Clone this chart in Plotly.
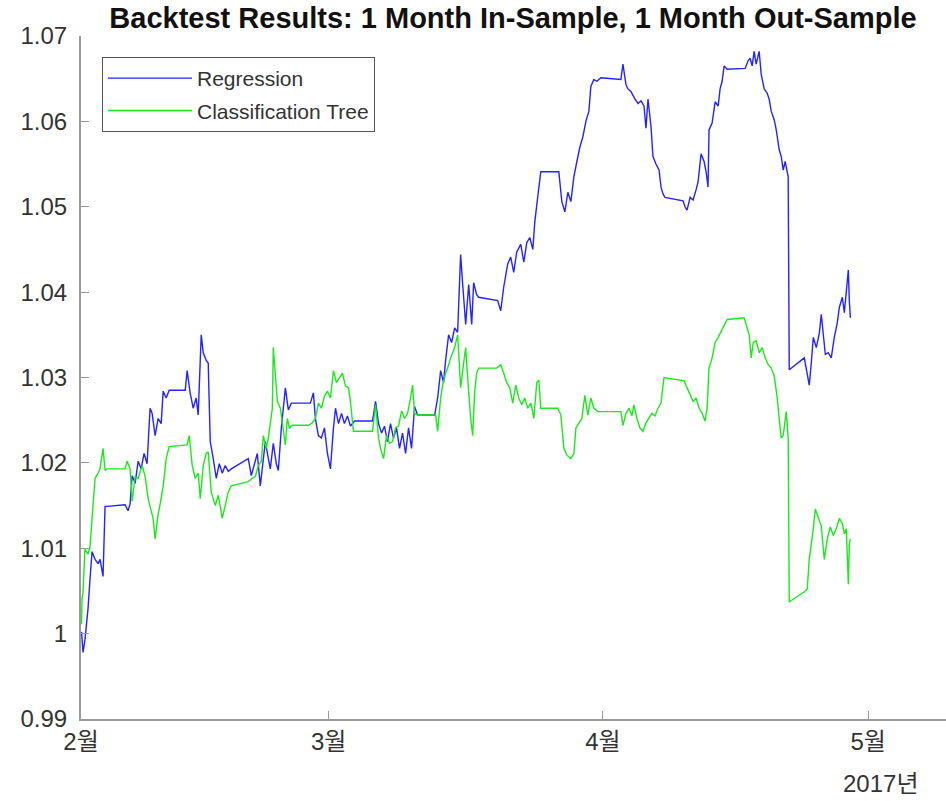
import pandas as pd
import plotly.graph_objects as go

# Days since 2017-02-01 00:00 and equity values
reg_days = [0.06, 0.23, 0.45, 0.79, 1.02, 1.25, 1.59, 1.93, 2.15, 2.49, 2.72, 2.94,
            4.98, 5.32, 5.55, 5.78, 6.12, 6.46, 6.8, 7.13, 7.47, 7.81, 8.04, 8.38, 8.72, 9.06, 9.29, 9.63, 9.97,
            11.78, 12.0, 12.34, 12.68, 13.02, 13.25, 13.59, 13.82, 14.16, 14.38, 14.61, 14.95, 15.29, 15.63, 15.97, 16.31, 16.65, 16.99,
            18.91, 19.25, 19.59, 19.93, 20.27, 20.61, 20.84, 21.18, 21.4, 21.74, 22.08, 22.31, 22.65, 22.99, 23.1, 23.44, 23.78,
            25.93, 26.27, 26.5, 26.84, 27.18, 27.52, 27.86, 28.2, 28.54, 28.77, 29.11, 29.45, 29.78, 30.12, 30.46, 30.92,
            32.96, 33.3, 33.64, 33.98, 34.31, 34.65, 34.99, 35.33, 35.67, 36.01, 36.35, 36.69, 37.03, 37.37, 37.71, 38.05,
            39.98, 40.32, 40.66, 40.99, 41.22, 41.56, 41.9, 42.24, 42.58, 42.92, 43.15, 43.49, 43.83, 44.17, 44.39, 44.73, 44.96,
            47.11, 47.45, 47.79, 48.24, 48.58, 48.92, 49.26, 49.72, 50.06, 50.4, 50.74, 51.08, 51.3, 51.64, 51.98,
            54.02, 54.36, 54.7, 55.04, 55.38, 55.72, 56.06, 56.4, 56.74, 57.08, 57.42, 57.64, 57.98, 58.32, 58.78,
            61.04, 61.27, 61.61, 61.83, 62.17, 62.63, 62.97, 63.31, 63.65, 63.87, 64.1, 64.44, 64.66, 65.0, 65.35, 65.57, 65.8, 66.02,
            68.06, 68.29, 68.52, 68.86, 69.2, 69.54, 69.76, 70.1, 70.44, 70.67, 70.89, 71.0, 71.35, 71.69, 72.03, 72.25, 72.48, 72.71, 73.05,
            75.08, 75.42, 75.65, 75.88, 76.1, 76.33, 76.67, 76.9, 77.24, 77.58, 77.8, 78.03, 78.37, 78.6, 78.93, 79.16, 79.39, 79.61, 79.95,
            80.07, 81.77, 82.1, 82.33, 82.56, 82.79, 83.13, 83.47, 83.69, 83.92, 84.15, 84.48, 84.82, 85.16, 85.5, 85.73, 86.07, 86.3,
            86.52, 86.75, 86.86, 86.98]
reg_vals = [1.0002, 0.9978, 0.9993, 1.0029, 1.0064, 1.0096, 1.0087, 1.0082, 1.0087, 1.0067, 1.0149, 1.0149,
            1.0151, 1.0144, 1.0152, 1.0185, 1.0176, 1.0202, 1.0193, 1.0211, 1.0199, 1.0264, 1.0258, 1.0232, 1.0252, 1.0246, 1.0284, 1.0276, 1.0285,
            1.0285, 1.0308, 1.0282, 1.0264, 1.0276, 1.0256, 1.035, 1.0329, 1.032, 1.0317, 1.0225, 1.0205, 1.0182, 1.0199, 1.0188, 1.0197, 1.019, 1.0193,
            1.0205, 1.0185, 1.0199, 1.0211, 1.0173, 1.0205, 1.0225, 1.0205, 1.0193, 1.0223, 1.0199, 1.0191, 1.0241, 1.0276, 1.0288, 1.0262, 1.027,
            1.027, 1.0282, 1.0252, 1.0232, 1.0229, 1.0241, 1.0211, 1.0193, 1.0241, 1.0264, 1.0246, 1.0258, 1.0246, 1.0255, 1.0243, 1.0249,
            1.0249, 1.0272, 1.0246, 1.0235, 1.0243, 1.0225, 1.0246, 1.0229, 1.0241, 1.0217, 1.0235, 1.0211, 1.0241, 1.0217, 1.0266, 1.0256,
            1.0256, 1.0276, 1.0308, 1.0294, 1.032, 1.035, 1.0341, 1.0358, 1.0353, 1.0444, 1.0409, 1.0362, 1.0409, 1.0362, 1.0411, 1.0397, 1.0394,
            1.039, 1.0378, 1.0406, 1.0433, 1.0441, 1.0423, 1.0447, 1.0456, 1.0435, 1.0458, 1.0464, 1.045, 1.0482, 1.0512, 1.0541,
            1.0541, 1.0506, 1.0494, 1.0517, 1.0506, 1.0535, 1.0553, 1.057, 1.0582, 1.06, 1.0612, 1.0641, 1.0649, 1.0647, 1.0651,
            1.0649, 1.0667, 1.0643, 1.0638, 1.0635, 1.0626, 1.0621, 1.0624, 1.0618, 1.0592, 1.0626, 1.0594, 1.0559, 1.055, 1.0543, 1.0523, 1.0515, 1.0511,
            1.0507, 1.05, 1.0496, 1.0511, 1.0508, 1.052, 1.0529, 1.0562, 1.0553, 1.0541, 1.0523, 1.059, 1.0598, 1.0623, 1.0618, 1.0638, 1.0647, 1.0665, 1.0661,
            1.0662, 1.0671, 1.0674, 1.0665, 1.0682, 1.0667, 1.0682, 1.0655, 1.0638, 1.0633, 1.0626, 1.0612, 1.0602, 1.059, 1.0567, 1.0559, 1.0543, 1.0553, 1.0535,
            1.0309, 1.0323, 1.0305, 1.0291, 1.0317, 1.0347, 1.0335, 1.0352, 1.0374, 1.0347, 1.0327, 1.0329, 1.0323, 1.0347, 1.0364, 1.0382, 1.0394, 1.0376,
            1.0406, 1.0426, 1.039, 1.037]

cls_days = [0.06, 0.11, 0.23, 0.34, 0.45, 0.79, 1.02, 1.25, 1.59, 1.93, 2.15, 2.49, 2.72, 2.94,
            4.98, 5.21, 5.55, 5.78, 6.12, 6.46, 6.91, 7.25, 7.59, 7.93, 8.15, 8.38, 8.72, 8.95, 9.29, 9.63, 9.97,
            12.0, 12.23, 12.57, 12.91, 13.25, 13.48, 13.82, 14.16, 14.38, 14.72, 15.18, 15.52, 15.97, 16.31, 16.65, 16.99,
            18.91, 19.37, 19.71, 20.05, 20.39, 20.61, 20.95, 21.18, 21.4, 21.63, 21.74, 21.97, 22.2, 22.54, 22.76, 23.1, 23.33, 23.56, 23.9,
            25.71, 26.16, 26.5, 26.84, 27.18, 27.52, 27.86, 28.2, 28.54, 28.88, 29.22, 29.56, 29.9, 30.24, 30.46, 30.8, 31.03,
            32.96, 33.3, 33.64, 33.86, 34.2, 34.54, 34.88, 35.22, 35.56, 35.9, 36.24, 36.58, 36.92, 37.26, 37.49, 37.71, 38.05,
            40.09, 40.32, 40.66, 40.88, 41.22, 41.45, 41.79, 42.24, 42.58, 42.92, 43.26, 43.49, 43.71, 44.05, 44.28, 44.5, 44.73, 44.96,
            47.0, 47.45, 47.79, 48.13, 48.47, 48.81, 49.15, 49.49, 49.83, 50.17, 50.51, 50.85, 51.19, 51.53, 51.76, 51.98,
            53.91, 54.25, 54.59, 54.93, 55.38, 55.72, 55.95, 56.29, 56.62, 56.96, 57.3, 57.64, 57.98, 58.44, 59.0,
            61.04, 61.27, 61.61, 61.95, 62.29, 62.51, 62.85, 63.19, 63.53, 63.87, 64.21, 64.55, 64.89, 65.23, 65.57, 65.91,
            68.18, 68.52, 68.86, 69.2, 69.54, 69.88, 70.22, 70.55, 70.78, 71.0, 71.35, 71.69, 72.03, 72.37, 72.71, 73.05,
            74.97, 75.31, 75.54, 75.77, 76.0, 76.33, 76.67, 77.01, 77.35, 77.69, 78.03, 78.37, 78.71, 78.93, 79.16, 79.39, 79.73, 79.95,
            80.07, 81.77, 82.1, 82.33, 82.56, 82.79, 83.01, 83.35, 83.69, 84.03, 84.37, 84.71, 85.05, 85.39, 85.73, 86.07, 86.3,
            86.52, 86.75, 86.86, 86.98]
cls_vals = [1.0011, 1.004, 1.0049, 1.0087, 1.0099, 1.0093, 1.0102, 1.0135, 1.0182, 1.0188, 1.0193, 1.0217, 1.0191, 1.0193,
            1.0193, 1.0202, 1.0193, 1.0155, 1.0184, 1.0182, 1.0197, 1.0184, 1.0158, 1.0144, 1.0135, 1.0111, 1.014, 1.0152, 1.0173, 1.0205, 1.0219,
            1.0221, 1.0232, 1.0197, 1.0182, 1.0188, 1.0158, 1.0197, 1.0211, 1.0213, 1.0166, 1.015, 1.0162, 1.0135, 1.0152, 1.0166, 1.0173,
            1.0178, 1.0182, 1.0184, 1.0197, 1.0202, 1.0232, 1.0217, 1.0229, 1.0244, 1.0264, 1.0335, 1.03, 1.0272, 1.0264, 1.0249, 1.0221, 1.0252, 1.0241, 1.0244,
            1.0244, 1.0247, 1.0252, 1.027, 1.0264, 1.0278, 1.0284, 1.0276, 1.0308, 1.0294, 1.03, 1.0305, 1.029, 1.0288, 1.0272, 1.0237, 1.0237,
            1.0237, 1.0268, 1.0229, 1.0217, 1.0205, 1.0232, 1.0223, 1.0225, 1.0241, 1.0243, 1.0261, 1.0252, 1.0258, 1.0276, 1.0291, 1.0258, 1.0256,
            1.0256, 1.0237, 1.0276, 1.0291, 1.0305, 1.0311, 1.0323, 1.0335, 1.035, 1.0288, 1.0317, 1.0335, 1.03, 1.0252, 1.0232, 1.0282, 1.0305, 1.0311,
            1.0311, 1.0315, 1.0305, 1.0294, 1.0288, 1.027, 1.0291, 1.0276, 1.0268, 1.0276, 1.0264, 1.027, 1.0252, 1.0294, 1.0297, 1.0264,
            1.0264, 1.0256, 1.0217, 1.0209, 1.0205, 1.0211, 1.0241, 1.0247, 1.0252, 1.0279, 1.0256, 1.0276, 1.0264, 1.026, 1.026,
            1.026, 1.0244, 1.0258, 1.0264, 1.0255, 1.0268, 1.0252, 1.0241, 1.0237, 1.0247, 1.0252, 1.0258, 1.0255, 1.0264, 1.027, 1.03,
            1.0296, 1.0288, 1.0282, 1.0272, 1.0276, 1.0264, 1.0258, 1.0249, 1.0264, 1.0311, 1.0323, 1.0341, 1.0347, 1.0355, 1.0361, 1.0368,
            1.037, 1.0358, 1.035, 1.0323, 1.0341, 1.0343, 1.0329, 1.0335, 1.0323, 1.0315, 1.0311, 1.0302, 1.0276, 1.0252, 1.0229, 1.0232, 1.026, 1.0229,
            1.0037, 1.0049, 1.0052, 1.0087, 1.0103, 1.0123, 1.0146, 1.0135, 1.0126, 1.0087, 1.0111, 1.0125, 1.0115, 1.0123, 1.0135, 1.0129, 1.0117,
            1.0123, 1.0058, 1.0105, 1.0111]

series_names = ["Regression", "Classification Tree"]
month_ticks = ["2017-02-01", "2017-03-01", "2017-04-01", "2017-05-01"]
month_labels = ["2월", "3월", "4월", "5월"]
y_ticks = [0.99, 1.0, 1.01, 1.02, 1.03, 1.04, 1.05, 1.06, 1.07]
y_labels = ["0.99", "1", "1.01", "1.02", "1.03", "1.04", "1.05", "1.06", "1.07"]
year_label = "2017년"
title_text = "Backtest Results: 1 Month In-Sample, 1 Month Out-Sample"

base = pd.Timestamp("2017-02-01")
reg_x = base + pd.to_timedelta(reg_days, unit="D")
cls_x = base + pd.to_timedelta(cls_days, unit="D")

FONT = "Liberation Sans, Arial, Noto Sans CJK KR, sans-serif"
AXC = "#9a9a9a"
TXT = "#333333"
W, H = 946, 801
L, R, T, B = 81, 0, 36, 82
PW, PH = W - L - R, H - T - B

fig = go.Figure()
fig.add_trace(go.Scatter(x=reg_x, y=reg_vals, mode="lines", name=series_names[0],
                         legendgroup="a", line=dict(color="rgb(35,35,255)", width=1.4)))
fig.add_trace(go.Scatter(x=cls_x, y=cls_vals, mode="lines", name=series_names[1],
                         legendgroup="b", line=dict(color="rgb(25,235,25)", width=1.4)))

fig.update_layout(
    width=W, height=H,
    margin=dict(l=L, r=R, t=T, b=B),
    paper_bgcolor="white", plot_bgcolor="white",
    font=dict(family=FONT, size=24, color=TXT),
    title=dict(text="<b>" + title_text + "</b>", x=513 / W, xanchor="center",
               y=1 - 18 / H, yanchor="middle", font=dict(size=29, color="#111111")),
    showlegend=True,
    legend=dict(x=(102 - L) / PW, y=1 - (57 - T) / PH, xanchor="left", yanchor="top",
                bgcolor="white", bordercolor="#555555", borderwidth=1,
                font=dict(size=21, color=TXT), itemwidth=84,
                tracegroupgap=2),
    xaxis=dict(type="date", range=["2017-02-01", "2017-05-09 19:00"],
               tickvals=month_ticks, ticktext=month_labels,
               showgrid=False, zeroline=False, showline=True, linecolor=AXC, linewidth=2,
               ticks="inside", ticklen=8, tickcolor=AXC, tickwidth=1,
               tickfont=dict(size=24, color=TXT)),
    yaxis=dict(range=[0.99, 1.07], tickvals=y_ticks, ticktext=y_labels,
               showgrid=False, zeroline=False, showline=True, linecolor=AXC, linewidth=2,
               ticks="inside", ticklen=8, tickcolor=AXC, tickwidth=1,
               ticklabelstandoff=7,
               tickfont=dict(size=24, color=TXT)),
)

fig.add_annotation(text=year_label, xref="paper", yref="paper",
                   x=(880 - L) / PW, y=-(783 - (H - B)) / PH, xanchor="center", yanchor="middle",
                   showarrow=False, font=dict(size=24, color=TXT, family=FONT))

fig.write_html("out.html")
